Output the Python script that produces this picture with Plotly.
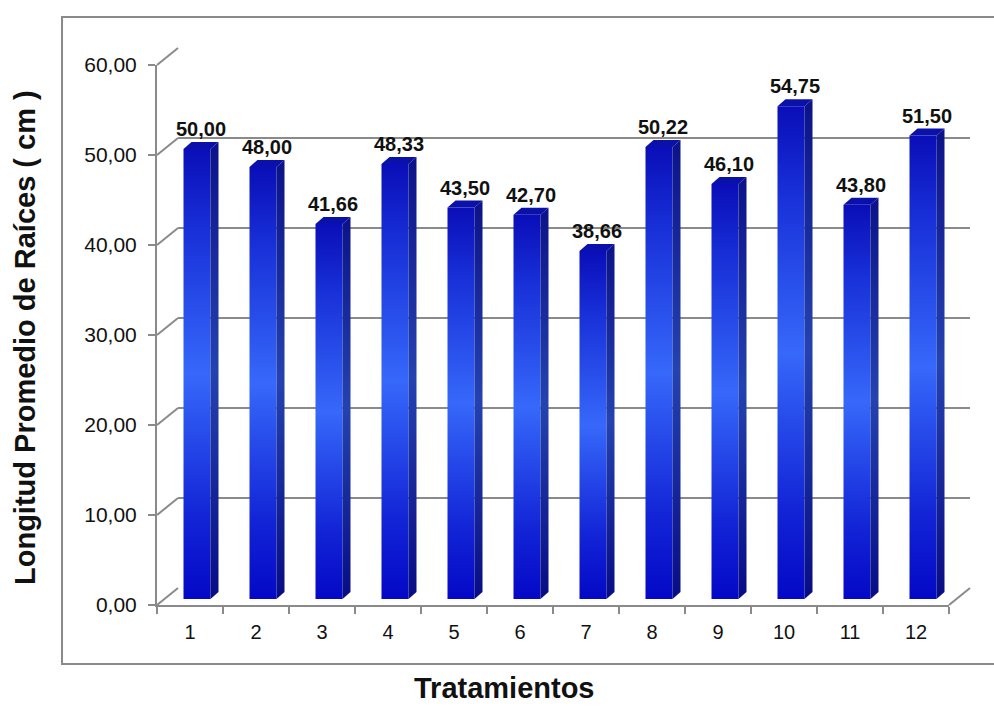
import plotly.graph_objects as go

# Data
tratamientos = [str(i) for i in range(1, 13)]
longitud = [50.00, 48.00, 41.66, 48.33, 43.50, 42.70, 38.66, 50.22, 46.10, 54.75, 43.80, 51.50]
y_ticks = [0, 10, 20, 30, 40, 50, 60]
y_tick_text = [f"{t:.2f}".replace(".", ",") for t in y_ticks]
y_title = "Longitud Promedio de Raíces ( cm )"
x_title = "Tratamientos"

# Page and frame geometry (pixels)
W, H = 994, 707
FX0, FX1 = 157, 949          # front x-axis extent
FY0, FY1 = 605, 65           # front y pixel of 0 and of 60
WALL_DX, WALL_DY = 21, -17   # depth offset of the back wall
BAR_DX, BAR_DY = 7, -6       # depth offset of the bars' front faces
YMAX = 60

GRID = "#8a8a8a"
FONT = "Arial, Liberation Sans, sans-serif"

ux = len(tratamientos) / (FX1 - FX0)   # data units per pixel (x)
uy = YMAX / (FY0 - FY1)                # data units per pixel (y)
HALF_W = 13.5 * ux                     # half width of a bar front face
SIDE_X = 8 * ux                        # side face depth (x)
SIDE_Y = 7 * uy                        # side face rise (y)


def xdom(dx):
    return [(FX0 + dx) / W, (FX1 + dx) / W]


def ydom(dy):
    return [1 - (FY0 + dy) / H, 1 - (FY1 + dy) / H]


def fmt(v):
    return f"{v:.2f}".replace(".", ",")


fig = go.Figure()

# placeholders so every subplot is created
fig.add_trace(go.Scatter(x=[None], y=[None], xaxis="x", yaxis="y",
                         showlegend=False, hoverinfo="skip"))
fig.add_trace(go.Scatter(x=[None], y=[None], xaxis="x2", yaxis="y2",
                         showlegend=False, hoverinfo="skip"))

front_scale = [[0.0, "#0408c6"], [0.18, "#1224d6"], [0.5, "#3668fa"],
               [0.82, "#1830d8"], [1.0, "#0a0eb8"]]
side_scale = [[0.0, "#080c84"], [0.5, "#2442b0"], [1.0, "#0c1288"]]

for i, v in enumerate(longitud, start=1):
    xl, xr = i - HALF_W, i + HALF_W
    # front face
    fig.add_trace(go.Scatter(
        x=[xl, xr, xr, xl, xl], y=[0, 0, v, v, 0],
        xaxis="x3", yaxis="y3", mode="lines", line=dict(width=0),
        fill="toself", fillgradient=dict(type="vertical", colorscale=front_scale),
        showlegend=False, hoverinfo="skip"))
    # side face
    fig.add_trace(go.Scatter(
        x=[xr, xr + SIDE_X, xr + SIDE_X, xr, xr],
        y=[0, SIDE_Y, v + SIDE_Y, v, 0],
        xaxis="x3", yaxis="y3", mode="lines", line=dict(width=0),
        fill="toself", fillgradient=dict(type="vertical", colorscale=side_scale),
        showlegend=False, hoverinfo="skip"))
    # top face
    fig.add_trace(go.Scatter(
        x=[xl, xr, xr + SIDE_X, xl + SIDE_X, xl],
        y=[v, v, v + SIDE_Y, v + SIDE_Y, v],
        xaxis="x3", yaxis="y3", mode="lines", line=dict(width=0),
        fill="toself", fillcolor="#0a10aa",
        showlegend=False, hoverinfo="skip"))

# value labels above each bar
annotations = []
for i, v in enumerate(longitud, start=1):
    annotations.append(dict(
        x=i + SIDE_X / 2, y=v + SIDE_Y, xref="x3", yref="y3",
        text=f"<b>{fmt(v)}</b>", showarrow=False, yanchor="bottom",
        yshift=0, font=dict(family=FONT, size=20, color="#111111")))

# axis titles
annotations.append(dict(
    x=25 / W, y=1 - 338 / H, xref="paper", yref="paper", text=f"<b>{y_title}</b>",
    textangle=-90, showarrow=False, xanchor="center", yanchor="middle",
    font=dict(family=FONT, size=29, color="#111111")))
annotations.append(dict(
    x=504 / W, y=1 - 688 / H, xref="paper", yref="paper", text=f"<b>{x_title}</b>",
    showarrow=False, xanchor="center", yanchor="middle",
    font=dict(family=FONT, size=29, color="#111111")))

# depth connectors between the front axis and the back wall
shapes = []
for t in y_ticks:
    py = FY0 - (FY0 - FY1) * t / YMAX
    shapes.append(dict(
        type="line", xref="paper", yref="paper", layer="below",
        x0=FX0 / W, y0=1 - py / H,
        x1=(FX0 + WALL_DX) / W, y1=1 - (py + WALL_DY) / H,
        line=dict(color=GRID, width=2)))
shapes.append(dict(
    type="line", xref="paper", yref="paper", layer="below",
    x0=FX1 / W, y0=1 - FY0 / H,
    x1=(FX1 + WALL_DX) / W, y1=1 - (FY0 + WALL_DY) / H,
    line=dict(color=GRID, width=2)))
# outer chart border
shapes.append(dict(
    type="rect", xref="paper", yref="paper", layer="below",
    x0=62 / W, y0=1 - 17 / H, x1=1.02, y1=1 - 664 / H,
    line=dict(color=GRID, width=2), fillcolor="rgba(0,0,0,0)"))

fig.update_layout(
    width=W, height=H, autosize=False,
    margin=dict(l=0, r=0, t=0, b=0, autoexpand=False),
    paper_bgcolor="white", plot_bgcolor="rgba(0,0,0,0)",
    showlegend=False,
    # back wall: gridlines
    xaxis=dict(domain=xdom(WALL_DX), range=[0.5, 12.5], anchor="y",
               showgrid=False, zeroline=False, showline=False,
               showticklabels=False, ticks=""),
    yaxis=dict(domain=ydom(WALL_DY), range=[0, YMAX], anchor="x",
               tickvals=y_ticks, showgrid=True, gridcolor=GRID, gridwidth=2,
               zeroline=False, showline=False, showticklabels=False, ticks=""),
    # front axes: ticks and labels
    xaxis2=dict(domain=xdom(0), type="category", range=[-0.5, 11.5],
                anchor="y2", categoryorder="array", categoryarray=tratamientos,
                tickvals=tratamientos, tickson="boundaries",
                ticks="outside", ticklen=7, tickwidth=2, tickcolor=GRID,
                ticklabelstandoff=8,
                showline=True, linecolor=GRID, linewidth=2,
                showgrid=False, zeroline=False,
                tickfont=dict(family=FONT, size=20, color="#111111")),
    yaxis2=dict(domain=ydom(0), range=[0, YMAX], anchor="x2",
                tickvals=y_ticks, ticktext=y_tick_text,
                ticks="outside", ticklen=7, tickwidth=2, tickcolor=GRID,
                ticklabelstandoff=7,
                showline=True, linecolor=GRID, linewidth=2,
                showgrid=False, zeroline=False,
                tickfont=dict(family=FONT, size=21, color="#111111")),
    # bars
    xaxis3=dict(domain=xdom(BAR_DX), range=[0.5, 12.5], anchor="y3", visible=False),
    yaxis3=dict(domain=ydom(BAR_DY), range=[0, YMAX], anchor="x3", visible=False),
    annotations=annotations,
    shapes=shapes,
)

fig.write_html("out.html")
